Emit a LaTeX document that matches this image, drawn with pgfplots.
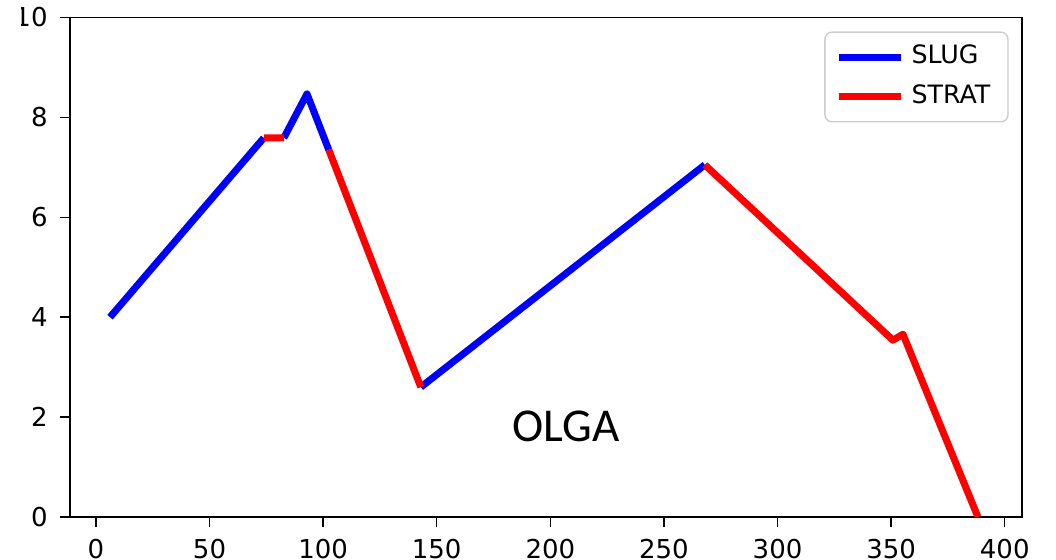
\documentclass[border=0pt]{standalone}
\usepackage{fontspec}
\setmainfont{DejaVu Sans}
\newfontfamily\calib{Carlito}
\usepackage{pgfplots}
\pgfplotsset{compat=1.18}

\begin{document}
\begin{tikzpicture}
\begin{axis}[
  scale only axis,
  width=9.52cm, height=4.995cm,
  xmin=-11.4, xmax=407.6, ymin=0, ymax=10,
  xtick={0,50,...,400}, ytick={0,2,...,10},
  tick align=outside, tick pos=left,
  major tick length=0.1cm,
  tick style={black, line width=0.4pt},
  axis line style={line width=0.5pt},
  ticklabel style={font=\fontsize{7.4}{9}\selectfont},
  /pgf/number format/assume math mode=true,
  legend cell align=left,
  legend style={at={(rel axis cs:0.986,0.972)}, anchor=north east,
    draw=black!20, rounded corners=2pt, font=\fontsize{7.2}{8}\selectfont,
    row sep=0pt, inner xsep=3pt, inner ysep=1.5pt,
    nodes={inner ysep=2.2pt}},
  legend image code/.code={\draw[#1] (0cm,0cm) -- (0.62cm,0cm);},
  every axis plot/.append style={line width=2pt, line join=round},
]
\addplot[blue, unbounded coords=jump] coordinates {
  (6.2,4.0) (73.9,7.59)
  (nan,nan)
  (82.7,7.59) (92.9,8.47) (102.5,7.35)
  (nan,nan)
  (143,2.6) (268,7.05)
};
\addlegendentry{SLUG}
\addplot[red, unbounded coords=jump] coordinates {
  (73.9,7.59) (82.7,7.59)
  (nan,nan)
  (102.5,7.35) (143,2.6)
  (nan,nan)
  (268,7.05) (350.8,3.54) (355.2,3.66) (388.2,0)
};
\addlegendentry{STRAT}
\node[font=\calib\fontsize{13.4}{15}\selectfont] at (axis cs:207,1.82) {OLGA};
\end{axis}
% the reference image is cropped through the top tick label
\fill[white] (-0.71cm,4.80cm) rectangle (-0.485cm,5.18cm);
\pgfresetboundingbox
\useasboundingbox (-0.70cm,-0.43cm) rectangle (9.86cm,5.17cm);
\end{tikzpicture}
\end{document}
